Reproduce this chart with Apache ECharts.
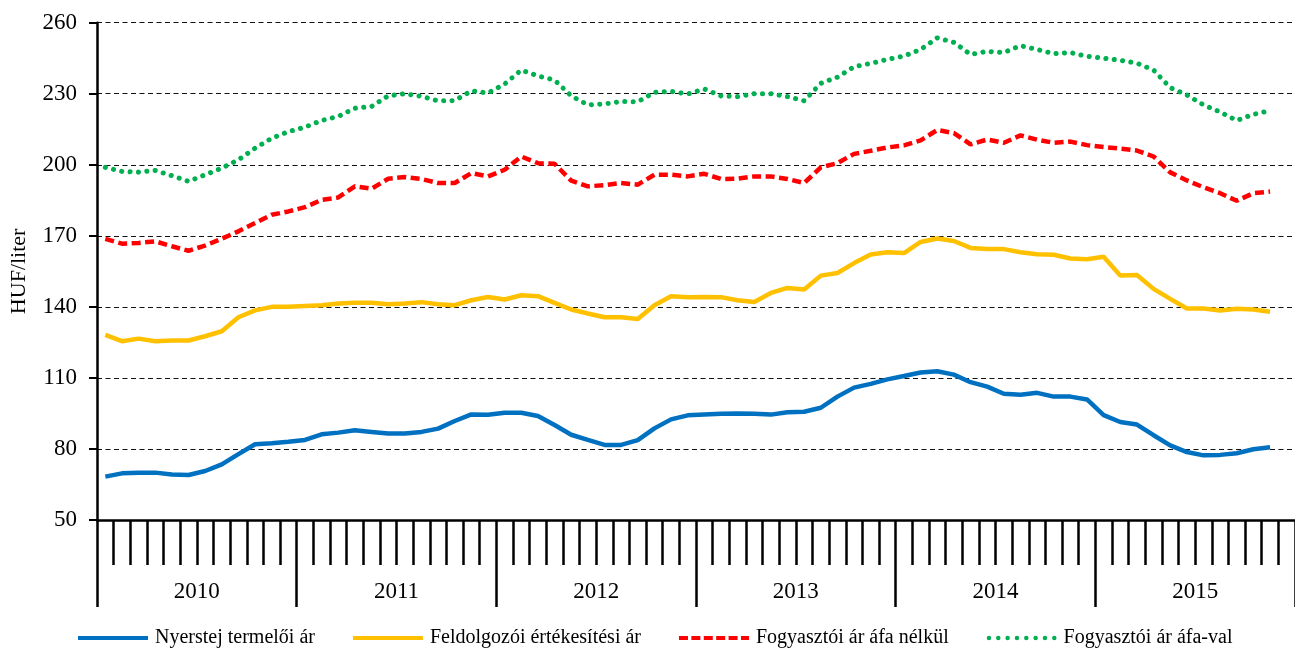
<!DOCTYPE html>
<html>
<head>
<meta charset="utf-8">
<script src="https://cdn.jsdelivr.net/npm/echarts@6/dist/echarts.min.js"></script>
<style>
    html, body { margin: 0; padding: 0; background: #fff; }
    #chart { width: 1295px; height: 650px; }
</style>
</head>
<body>
<div id="chart"></div>
<script>
    const YEARS = ['2010', '2011', '2012', '2013', '2014', '2015'];
    const MONTHS = [];
    YEARS.forEach(y => {
        for (let m = 1; m <= 12; m++) MONTHS.push(y + '-' + (m < 10 ? '0' + m : m));
    });

    const SERIES_NAMES = [
        'Nyerstej termelői ár',
        'Feldolgozói értékesítési ár',
        'Fogyasztói ár áfa nélkül',
        'Fogyasztói ár áfa-val'
    ];

    const nyerstej = [
        68.3, 69.7, 70.0, 70.0, 69.2, 69.0, 70.7, 73.5, 77.8, 82.0, 82.4, 83.0,
        83.8, 86.2, 86.9, 87.9, 87.2, 86.5, 86.5, 87.2, 88.6, 91.8, 94.6, 94.4,
        95.3, 95.3, 93.9, 90.1, 86.0, 83.8, 81.7, 81.7, 83.7, 88.7, 92.5, 94.2,
        94.6, 94.9, 95.0, 94.9, 94.5, 95.5, 95.7, 97.4, 102.1, 105.9, 107.5, 109.4,
        110.8, 112.3, 112.8, 111.4, 108.2, 106.3, 103.3, 102.9, 103.7, 102.1, 102.1, 100.9,
        94.3, 91.4, 90.3, 85.8, 81.5, 78.7, 77.3, 77.5, 78.2, 79.9, 80.7, null
    ];
    const feldolgozoi = [
        128.2, 125.5, 126.6, 125.5, 125.8, 125.8, 127.6, 129.7, 135.6, 138.5, 140.0, 140.1,
        140.4, 140.7, 141.4, 141.7, 141.7, 141.1, 141.4, 142.0, 141.1, 140.7, 142.8, 144.2,
        143.1, 144.9, 144.5, 141.7, 138.9, 137.2, 135.6, 135.6, 134.9, 140.7, 144.5, 144.1,
        144.2, 144.1, 142.8, 142.1, 145.9, 148.0, 147.3, 153.2, 154.3, 158.5, 162.1, 163.1,
        162.7, 167.4, 168.9, 167.8, 164.9, 164.4, 164.4, 163.1, 162.2, 162.0, 160.4, 160.1,
        161.2, 153.2, 153.5, 147.6, 143.4, 139.3, 139.3, 138.5, 139.2, 138.9, 137.9, null
    ];
    const afaNelkul = [
        168.7, 166.7, 167.0, 167.7, 165.6, 163.7, 165.9, 168.8, 171.9, 175.4, 178.9, 180.3,
        182.1, 185.2, 186.2, 190.9, 189.9, 194.1, 194.8, 194.0, 192.3, 192.3, 196.5, 195.1,
        197.9, 203.5, 200.7, 200.4, 193.3, 190.9, 191.4, 192.3, 191.6, 195.8, 195.8, 195.1,
        196.2, 194.0, 194.1, 195.1, 195.1, 194.0, 192.3, 198.9, 200.7, 204.6, 205.9, 207.3,
        208.2, 210.3, 214.7, 213.4, 208.6, 210.7, 209.3, 212.4, 210.6, 209.3, 209.8, 208.3,
        207.5, 206.8, 206.0, 203.5, 196.8, 193.4, 190.5, 188.0, 184.8, 188.0, 188.7, null
    ];
    const afaVal = [
        198.9, 197.2, 196.9, 197.6, 195.4, 193.0, 195.8, 198.6, 202.1, 207.0, 211.2, 214.0,
        215.9, 218.7, 220.4, 223.9, 224.6, 229.1, 230.0, 228.9, 227.0, 227.1, 231.2, 230.3,
        234.1, 240.0, 237.5, 235.8, 229.1, 225.3, 225.7, 226.7, 226.6, 230.6, 231.0, 229.9,
        232.0, 229.1, 228.8, 230.0, 230.0, 228.8, 227.0, 234.4, 237.0, 241.4, 242.8, 244.5,
        245.9, 248.7, 253.6, 251.7, 246.6, 247.9, 247.4, 250.3, 248.7, 246.9, 247.4, 245.8,
        245.0, 244.1, 242.9, 240.0, 232.6, 229.5, 225.3, 222.3, 218.7, 221.3, 222.9, null
    ];

    const FONT = '"Liberation Serif", "Times New Roman", serif';

    // legend icons drawn in a 70 x 4 box
    function dashIcon(dash, gap) {
        let p = 'path://';
        for (let x = 0; x < 70; x += dash + gap) {
            const w = Math.min(dash, 70 - x);
            p += 'M' + x + ',0h' + w + 'v4h-' + w + 'z';
        }
        return p;
    }
    function dotIcon(step) {
        let p = 'path://';
        for (let x = 2; x <= 68; x += step) {
            p += 'M' + (x - 2) + ',2a2,2 0 1,0 4,0a2,2 0 1,0 -4,0z';
        }
        return p;
    }
    const LEGEND_ICONS = [
        'path://M0,0h70v4h-70z',
        'path://M0,0h70v4h-70z',
        dashIcon(9, 3.4),
        dotIcon(8.3)
    ];

    const chart = echarts.init(document.getElementById('chart'));
    chart.setOption({
        animation: false,
        textStyle: { fontFamily: FONT, color: '#000' },
        grid: { left: 97, top: 22.7, width: 1202, height: 497.3, containLabel: false },
        legend: {
            left: 78,
            top: 628,
            padding: 0,
            itemGap: 38,
            itemWidth: 70,
            itemHeight: 4.5,
            textStyle: { fontFamily: FONT, fontSize: 20, color: '#000', padding: [0, 0, 0, 2] },
            data: SERIES_NAMES.map((name, i) => ({ name: name, icon: LEGEND_ICONS[i] }))
        },
        xAxis: [{
            type: 'category',
            data: MONTHS,
            boundaryGap: true,
            axisLine: { show: true, lineStyle: { color: '#000', width: 2.5 } },
            axisTick: { show: true, interval: 0, length: 45, lineStyle: { color: '#000', width: 2.5 } },
            axisLabel: { show: false },
            splitLine: { show: false }
        }, {
            type: 'category',
            data: YEARS,
            position: 'bottom',
            boundaryGap: true,
            axisLine: { show: false },
            axisTick: { show: true, interval: 0, length: 87, lineStyle: { color: '#000', width: 2.5 } },
            axisLabel: { show: true, interval: 0, margin: 60, fontSize: 23, fontFamily: FONT, color: '#000' },
            splitLine: { show: false }
        }],
        yAxis: {
            type: 'value',
            min: 50,
            max: 260,
            interval: 30,
            name: 'HUF/liter',
            nameLocation: 'middle',
            nameGap: 67,
            nameTextStyle: { fontSize: 22, fontFamily: FONT, color: '#000' },
            axisLine: { show: true, lineStyle: { color: '#000', width: 2.5 } },
            axisTick: { show: true, length: 8, lineStyle: { color: '#000', width: 2 } },
            axisLabel: { fontSize: 23, margin: 20, fontFamily: FONT, color: '#000' },
            splitLine: { lineStyle: { color: '#111', width: 1.2, type: [5, 3.5] } }
        },
        series: [{
            name: SERIES_NAMES[0],
            type: 'line',
            symbol: 'none',
            data: nyerstej,
            itemStyle: { color: '#0070C0' },
            lineStyle: { color: '#0070C0', width: 4.5 }
        }, {
            name: SERIES_NAMES[1],
            type: 'line',
            symbol: 'none',
            data: feldolgozoi,
            itemStyle: { color: '#FFC000' },
            lineStyle: { color: '#FFC000', width: 4.5 }
        }, {
            name: SERIES_NAMES[2],
            type: 'line',
            symbol: 'none',
            data: afaNelkul,
            itemStyle: { color: '#FF0000' },
            lineStyle: { color: '#FF0000', width: 4.5, type: [9, 4.5] }
        }, {
            name: SERIES_NAMES[3],
            type: 'line',
            symbol: 'none',
            data: afaVal,
            itemStyle: { color: '#00B050' },
            lineStyle: { color: '#00B050', width: 5, type: [0.1, 8.3], cap: 'round' }
        }]
    });
</script>
</body>
</html>
